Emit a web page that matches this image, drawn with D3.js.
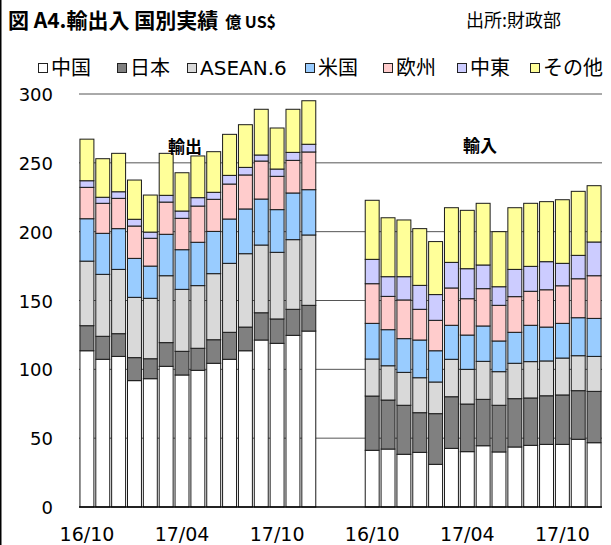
<!DOCTYPE html>
<html>
<head>
<meta charset="utf-8">
<script src="https://cdn.jsdelivr.net/npm/d3@7"></script>
<style>
  body { margin: 0; background: #fff; }
  svg { display: block; }
</style>
</head>
<body>
<script>
// 月 (16/10 - 17/12)
const months = ['16/10', '16/11', '16/12', '17/01', '17/02', '17/03', '17/04', '17/05',
  '17/06', '17/07', '17/08', '17/09', '17/10', '17/11', '17/12']
const tickMonths = ['16/10', '17/04', '17/10']
const seriesNames = ['中国', '日本', 'ASEAN.6', '米国', '欧州', '中東', 'その他']
const seriesColors = ['#ffffff', '#808080', '#d9d9d9', '#99ccff', '#ffcccc', '#ccccff', '#ffff99']
const yTicks = [0, 50, 100, 150, 200, 250, 300]

// 輸出 (億 US$)
const exportChina = [113.5, 107.3, 109.4, 91.8, 93.2, 102.2, 95.9, 99.3, 104.4, 107.3, 113.5, 121.3, 118.9, 124.7, 127.8]
const exportJapan = [18.2, 16.7, 16.5, 16.7, 14.5, 17.2, 17.2, 16.0, 17.1, 19.6, 17.2, 19.8, 17.7, 18.9, 18.7]
const exportAsean = [46.9, 45.0, 46.7, 43.8, 43.9, 48.6, 45.0, 45.5, 48.0, 50.1, 53.3, 49.2, 48.4, 50.6, 51.1]
const exportUS = [30.8, 29.8, 29.6, 28.3, 23.4, 30.1, 28.8, 31.5, 30.7, 32.2, 32.5, 33.4, 31.0, 33.9, 32.9]
const exportEU = [22.8, 21.8, 22.0, 23.5, 20.2, 23.4, 22.8, 26.3, 23.3, 25.4, 24.7, 27.6, 24.2, 23.7, 27.4]
const exportME = [4.8, 4.4, 4.8, 4.9, 4.5, 4.9, 5.3, 6.1, 5.1, 6.3, 5.5, 4.4, 5.3, 5.8, 5.6]
const exportOther = [30.2, 28.0, 27.9, 28.5, 26.9, 30.5, 27.8, 30.3, 29.5, 29.8, 31.0, 33.2, 29.8, 31.3, 31.6]

// 輸入 (億 US$)
const importChina = [41.2, 42.1, 38.3, 39.7, 31.0, 42.6, 40.2, 44.5, 40.0, 43.6, 44.8, 45.5, 45.5, 49.2, 46.7]
const importJapan = [39.4, 35.6, 35.6, 28.8, 36.8, 37.5, 34.6, 33.7, 33.9, 35.1, 34.4, 35.3, 35.9, 35.3, 37.3]
const importAsean = [26.9, 24.9, 23.9, 25.4, 23.0, 27.2, 25.2, 27.6, 24.4, 25.7, 26.4, 25.3, 26.8, 25.4, 25.4]
const importUS = [25.9, 26.2, 24.5, 27.4, 22.7, 24.7, 24.9, 25.7, 22.3, 22.5, 26.4, 24.6, 25.2, 27.6, 27.6]
const importEU = [28.8, 24.2, 28.1, 22.3, 22.1, 27.1, 26.4, 27.1, 25.9, 25.9, 24.7, 27.1, 27.3, 28.3, 31.0]
const importME = [17.7, 14.3, 16.9, 17.4, 18.7, 18.6, 21.8, 17.2, 13.5, 19.8, 18.1, 20.4, 16.3, 17.0, 24.5]
const importOther = [42.9, 42.8, 41.2, 41.2, 38.5, 39.7, 42.4, 44.8, 40.0, 44.8, 45.8, 43.6, 46.2, 46.5, 40.9]

const exportSeries = [exportChina, exportJapan, exportAsean, exportUS, exportEU, exportME, exportOther]
const importSeries = [importChina, importJapan, importAsean, importUS, importEU, importME, importOther]

const W = 611
const H = 545
const plot = { left: 79, right: 602, top: 94, bottom: 507 }
const legendX = [38, 117, 187, 305, 383, 457, 530]
const latin = '"DejaVu Sans", "Noto Sans CJK JP", sans-serif'
const cjk = '"Noto Sans CJK JP", sans-serif'

const makeRows = (prefix, series) => months.map((m, i) => {
  const row = { key: prefix + m }
  seriesNames.forEach((s, j) => { row[s] = series[j][i] })
  return row
})

const rows = makeRows('E', exportSeries).concat(makeRows('I', importSeries))
const slots = months.map(m => 'E' + m)
  .concat(['gap1', 'gap2', 'gap3'])
  .concat(months.map(m => 'I' + m))

const x = d3.scaleBand()
  .domain(slots)
  .range([plot.left, plot.right])
  .paddingInner(0.12)
  .paddingOuter(0.06)

const y = d3.scaleLinear().domain([0, 300]).range([plot.bottom, plot.top])

const stacked = d3.stack().keys(seriesNames)(rows)

const svg = d3.select('body').append('svg')
  .attr('width', W)
  .attr('height', H)

svg.append('rect').attr('width', W).attr('height', H).attr('fill', '#fff')
svg.append('rect').attr('x', 0).attr('y', 0).attr('width', 1.5).attr('height', H).attr('fill', '#000')

// title
const title = svg.append('text')
  .attr('x', 8)
  .attr('y', 28)
  .attr('font-family', cjk)
  .attr('font-weight', 'bold')
  .attr('font-size', 21)
  .attr('fill', '#000')
title.append('tspan').text('図 A4.輸出入 国別実績')
title.append('tspan').attr('dx', 7).attr('font-size', 16).text('億 US$')

svg.append('text')
  .attr('x', 466)
  .attr('y', 27)
  .attr('font-family', cjk)
  .attr('font-size', 18)
  .attr('fill', '#000')
  .text('出所:財政部')

// legend
const legend = svg.append('g')
  .selectAll('g')
  .data(seriesNames)
  .enter().append('g')
    .attr('transform', (d, i) => 'translate(' + legendX[i] + ',0)')

legend.append('rect')
  .attr('x', 0.5)
  .attr('y', 63.5)
  .attr('width', 9)
  .attr('height', 9)
  .attr('fill', (d, i) => seriesColors[i])
  .attr('stroke', '#222')
  .attr('stroke-width', 1)

legend.append('text')
  .attr('x', 13)
  .attr('y', 75)
  .attr('font-family', latin)
  .attr('font-size', 20)
  .attr('fill', '#000')
  .text(d => d)

// gridlines
svg.append('g')
  .selectAll('line')
  .data(yTicks.filter(t => t > 0))
  .enter().append('line')
    .attr('x1', plot.left)
    .attr('x2', plot.right)
    .attr('y1', d => y(d))
    .attr('y2', d => y(d))
    .attr('stroke', '#555')
    .attr('stroke-width', 1)

// bars
const layer = svg.append('g')
  .selectAll('g')
  .data(stacked)
  .enter().append('g')
    .attr('fill', (d, i) => seriesColors[i])

layer.selectAll('rect')
  .data(d => d)
  .enter().append('rect')
    .attr('x', d => x(d.data.key))
    .attr('y', d => y(d[1]))
    .attr('width', x.bandwidth())
    .attr('height', d => y(d[0]) - y(d[1]))
    .attr('stroke', '#1a1a1a')
    .attr('stroke-width', 1)

// baseline
svg.append('line')
  .attr('x1', plot.left)
  .attr('x2', plot.right)
  .attr('y1', y(0))
  .attr('y2', y(0))
  .attr('stroke', '#000')
  .attr('stroke-width', 1.5)

// y axis labels
svg.append('g')
  .selectAll('text')
  .data(yTicks)
  .enter().append('text')
    .attr('x', 53)
    .attr('y', d => y(d) + 7)
    .attr('text-anchor', 'end')
    .attr('font-family', latin)
    .attr('font-size', 18)
    .attr('fill', '#000')
    .text(d => d)

// x axis labels
const xAxis = d3.axisBottom(x)
  .tickValues(tickMonths.map(m => 'E' + m).concat(tickMonths.map(m => 'I' + m)))
  .tickFormat(d => d.slice(1))
  .tickSize(0)
  .tickPadding(0)

const xg = svg.append('g')
  .attr('transform', 'translate(0,' + (plot.bottom + 20) + ')')
  .call(xAxis)
xg.select('.domain').remove()
xg.selectAll('text')
  .attr('font-family', latin)
  .attr('font-size', 19)
  .attr('fill', '#000')

// group labels
svg.append('text')
  .attr('x', 185)
  .attr('y', 153)
  .attr('text-anchor', 'middle')
  .attr('font-family', cjk)
  .attr('font-weight', 'bold')
  .attr('font-size', 17)
  .text('輸出')

svg.append('text')
  .attr('x', 480)
  .attr('y', 152)
  .attr('text-anchor', 'middle')
  .attr('font-family', cjk)
  .attr('font-weight', 'bold')
  .attr('font-size', 17)
  .text('輸入')
</script>
</body>
</html>
